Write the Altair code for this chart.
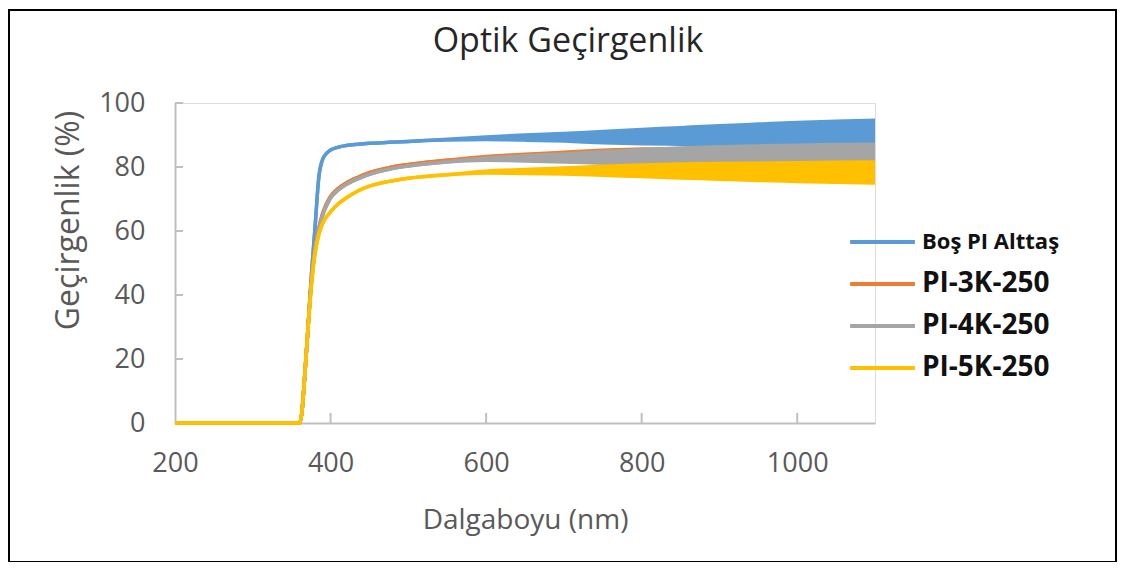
import altair as alt
import pandas as pd

# ---------------- data ----------------
wavelength = [200, 360, 363, 366, 370, 375, 380, 385, 390, 395, 400, 410, 420, 435,
              450, 475, 500, 550, 600, 650, 700, 750, 800, 850, 900, 950, 1000, 1050, 1100]

series_names = ["Boş PI Alttaş", "PI-3K-250", "PI-4K-250", "PI-5K-250"]
series_colors = ["#5B9BD5", "#ED7D31", "#A5A5A5", "#FFC000"]

# lower / upper envelope of the interference fringes (equal where no fringes)
bos_lo = [0, 0, 3, 12, 26, 45, 61, 77, 82.5, 84.3, 85.3, 86.2, 86.7, 87.1, 87.4, 87.7, 88.0,
          88.4, 88.6, 88.4, 88.1, 87.6, 87.3, 87.1, 86.9, 86.7, 86.5, 86.3, 86.1]
bos_hi = [0, 0, 3, 12, 26, 45, 61, 77, 82.5, 84.3, 85.3, 86.2, 86.7, 87.1, 87.4, 87.7, 88.0,
          88.7, 89.4, 90.0, 90.5, 91.1, 91.7, 92.3, 92.9, 93.4, 93.9, 94.3, 94.6]

k3_lo = [0, 0, 3, 12, 26, 43, 54.3, 61, 65.6, 68.6, 70.8, 73.3, 75.0, 76.8, 78.2, 79.8, 80.8,
         82.1, 82.5, 82.3, 82.0, 81.6, 81.3, 81.0, 80.8, 80.6, 80.4, 80.2, 80.1]
k3_hi = [0, 0, 3, 12, 26, 43, 54.3, 61, 65.6, 68.6, 70.8, 73.3, 75.0, 76.8, 78.2, 79.8, 80.8,
         82.1, 83.3, 84.0, 84.6, 85.2, 85.6, 85.7, 86.0, 86.3, 86.5, 86.7, 86.8]

k4_lo = [0, 0, 3, 12, 26, 43, 54, 60.5, 65, 68, 70.3, 72.8, 74.5, 76.3, 77.7, 79.3, 80.3,
         81.6, 82.1, 81.9, 81.6, 81.2, 80.9, 80.7, 80.5, 80.3, 80.1, 80.0, 79.9]
k4_hi = [0, 0, 3, 12, 26, 43, 54, 60.5, 65, 68, 70.3, 72.8, 74.5, 76.3, 77.7, 79.3, 80.3,
         81.6, 82.8, 83.5, 84.1, 84.8, 85.4, 85.9, 86.3, 86.6, 86.8, 87.0, 87.1]

k5_lo = [0, 0, 3, 12, 26, 42, 53, 59, 62.5, 64.5, 66, 68.5, 70.3, 72.5, 74, 75.5, 76.5,
         77.6, 78.1, 78.0, 77.8, 77.4, 77.0, 76.6, 76.2, 75.8, 75.5, 75.2, 75.0]
k5_hi = [0, 0, 3, 12, 26, 42, 53, 59, 62.5, 64.5, 66, 68.5, 70.3, 72.5, 74, 75.5, 76.5,
         77.6, 78.7, 79.2, 79.7, 80.2, 80.6, 80.9, 81.1, 81.2, 81.3, 81.5, 81.6]

x_ticks = [200, 400, 600, 800, 1000]
y_ticks = [0, 20, 40, 60, 80, 100]

lows = [bos_lo, k3_lo, k4_lo, k5_lo]
highs = [bos_hi, k3_hi, k4_hi, k5_hi]

rows = []
for name, lo, hi in zip(series_names, lows, highs):
    for w, a, b in zip(wavelength, lo, hi):
        rows.append({"series": name, "wl": w, "lo": a, "hi": b})
df = pd.DataFrame(rows)

# ---------------- styling ----------------
FONT = "Open Sans"
AXIS_GRAY = "#BFBFBF"
TEXT_GRAY = "#595959"
W, H = 700, 320

x_scale = alt.Scale(domain=[200, 1100], nice=False, zero=False)
y_scale = alt.Scale(domain=[0, 100], nice=False)

x_axis = alt.Axis(values=x_ticks, format="d", grid=False, ticks=False, labelFlush=False,
                  domainColor=AXIS_GRAY, domainWidth=2,
                  labelFont=FONT, labelFontSize=27, labelColor=TEXT_GRAY, labelPadding=27,
                  titleFont=FONT, titleFontSize=28, titleColor=TEXT_GRAY, titleFontWeight="normal",
                  titleBaseline="middle", titleY=97)
y_axis = alt.Axis(values=y_ticks, format="d", grid=False, ticks=False,
                  domainColor=AXIS_GRAY, domainWidth=2,
                  labelFont=FONT, labelFontSize=27, labelColor=TEXT_GRAY, labelPadding=30,
                  titleFont=FONT, titleFontSize=32, titleColor=TEXT_GRAY, titleFontWeight="normal",
                  titleAngle=270, titleBaseline="middle", titleAlign="center",
                  titleX=-107, titleY=117)

X_TITLE = "Dalgaboyu (nm)"
Y_TITLE = "Geçirgenlik (%)"


def xenc(field="wl"):
    return alt.X(f"{field}:Q", scale=x_scale, axis=x_axis, title=X_TITLE)


def yenc(field):
    return alt.Y(f"{field}:Q", scale=y_scale, axis=y_axis, title=Y_TITLE)


color_enc = alt.Color(
    "series:N",
    scale=alt.Scale(domain=series_names, range=series_colors),
    legend=alt.Legend(
        title=None, orient="none", legendX=673, legendY=124,
        symbolType="stroke", symbolSize=4200, symbolStrokeWidth=4,
        labelFont=FONT, labelFontWeight="bold", labelColor="#111111",
        labelFontSize=alt.ExprRef("datum.value == 'Boş PI Alttaş' ? 22 : 28"),
        labelOffset=5, clipHeight=30, rowPadding=12, labelLimit=300,
    ),
)

layers = []
for name, c in zip(series_names, series_colors):
    base = alt.Chart(df).transform_filter(alt.datum.series == name)
    band = base.mark_area(color=c, opacity=1, interpolate="monotone").encode(
        x=xenc(), y=yenc("lo"), y2="hi:Q")
    line_lo = base.mark_line(strokeWidth=3.5, interpolate="monotone").encode(
        x=xenc(), y=yenc("lo"), color=color_enc)
    line_hi = base.mark_line(strokeWidth=3.5, interpolate="monotone").encode(
        x=xenc(), y=yenc("hi"), color=color_enc)
    layers += [band, line_lo, line_hi]

# inward tick marks (Excel style)
ytick_df = pd.DataFrame({"v": y_ticks[1:]})
xtick_df = pd.DataFrame({"v": x_ticks[1:]})
yticks = alt.Chart(ytick_df).mark_rule(color=AXIS_GRAY, strokeWidth=2).encode(
    y=yenc("v"), x=alt.value(0), x2=alt.value(8))
xticks = alt.Chart(xtick_df).mark_rule(color=AXIS_GRAY, strokeWidth=2).encode(
    x=xenc("v"), y=alt.value(H), y2=alt.value(H - 10))

# outer frame of the figure
frame = alt.Chart(pd.DataFrame({"k": [1]})).mark_rect(
    filled=False, stroke="black", strokeWidth=2).encode(
    x=alt.value(-166), x2=alt.value(941), y=alt.value(-93), y2=alt.value(459))

chart = alt.layer(yticks, xticks, *layers, frame).properties(
    width=W, height=H,
    title=alt.TitleParams("Optik Geçirgenlik", font=FONT, fontSize=34, fontWeight="normal",
                          color="#262626", anchor="middle", frame="group", dx=43,
                          offset=0, dy=77, baseline="alphabetic"),
    autosize=alt.AutoSizeParams(type="none"),
    padding={"left": 167, "top": 95, "right": 242, "bottom": 139},
).configure_view(stroke=None).configure(background="white")

chart.save("out.html", embed_options={"renderer": "svg", "actions": False})
